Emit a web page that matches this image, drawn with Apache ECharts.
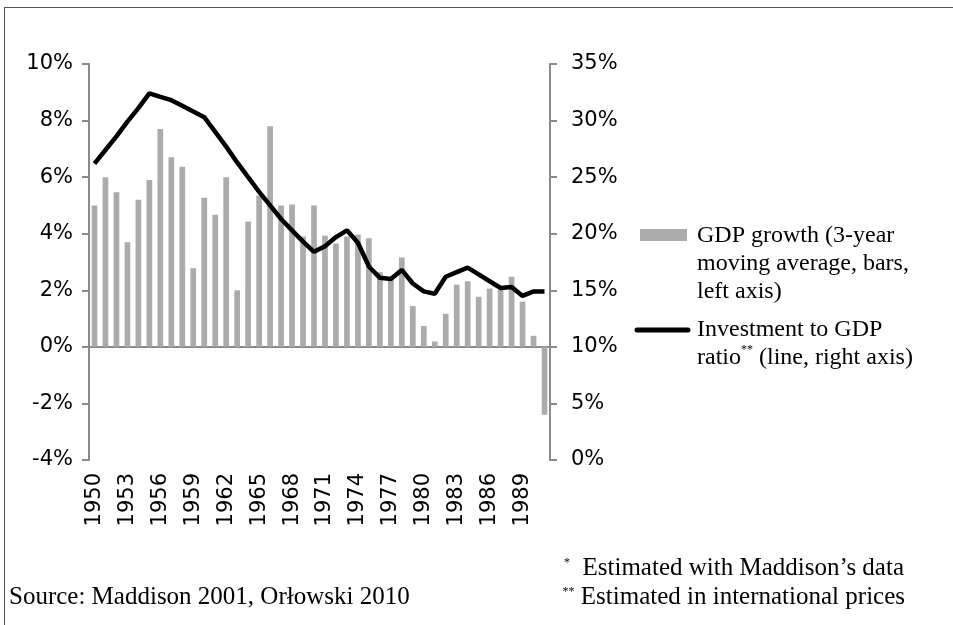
<!DOCTYPE html>
<html>
<head>
<meta charset="utf-8">
<script src="https://cdn.jsdelivr.net/npm/echarts@6/dist/echarts.min.js"></script>
<style>
    body { margin: 0; background: #fff; }
    #frame { position: absolute; left: 4px; top: 7px; right: 0; bottom: 0; border-top: 1px solid #555; border-left: 1px solid #555; }
    #chart { position: absolute; left: 0; top: 0; width: 953px; height: 625px; }
</style>
</head>
<body>
<div id="frame"></div>
<div id="chart"></div>
<script>
// years on the x axis
const years = ["1950", "1951", "1952", "1953", "1954", "1955", "1956", "1957", "1958", "1959",
    "1960", "1961", "1962", "1963", "1964", "1965", "1966", "1967", "1968", "1969",
    "1970", "1971", "1972", "1973", "1974", "1975", "1976", "1977", "1978", "1979",
    "1980", "1981", "1982", "1983", "1984", "1985", "1986", "1987", "1988", "1989",
    "1990", "1991"];
// GDP growth, 3-year moving average (%), left axis
const gdpGrowth = [5.0, 6.0, 5.47, 3.7, 5.2, 5.9, 7.7, 6.7, 6.37, 2.78,
    5.27, 4.67, 6.0, 2.0, 4.43, 5.35, 7.8, 5.0, 5.03, 3.9,
    5.0, 3.93, 3.65, 3.9, 3.97, 3.84, 2.64, 2.38, 3.16, 1.44,
    0.74, 0.19, 1.17, 2.2, 2.32, 1.77, 2.06, 2.02, 2.48, 1.6,
    0.39, -2.4];
// investment to GDP ratio (%), right axis
const investRatio = [26.2, 27.4, 28.6, 29.9, 31.1, 32.4, 32.1, 31.8, 31.3, 30.8,
    30.3, 29.0, 27.7, 26.3, 25.0, 23.7, 22.5, 21.3, 20.3, 19.3,
    18.4, 18.9, 19.7, 20.3, 19.2, 17.1, 16.1, 16.0, 16.8, 15.6,
    14.9, 14.7, 16.2, 16.6, 17.0, 16.4, 15.8, 15.2, 15.3, 14.5,
    14.9, 14.9];

const sansFont = "'DejaVu Sans', sans-serif";
const serifFont = "'Liberation Serif', serif";
const axisGrey = "#8a8a8a";

let chart = echarts.init(document.getElementById("chart"));
const option = {
    animation: false,
    grid: { left: 89, right: 403, top: 64, bottom: 165 },
    xAxis: [
        {
            // axis line and ticks sitting on the 0% line
            type: "category",
            data: years,
            position: "top",
            axisLine: { onZero: true, onZeroAxisIndex: 0, lineStyle: { color: axisGrey, width: 2 } },
            axisTick: { inside: true, length: 6, lineStyle: { color: axisGrey, width: 2 } },
            axisLabel: { show: false },
            splitLine: { show: false }
        },
        {
            // year labels at the bottom
            type: "category",
            data: years,
            position: "bottom",
            axisLine: { show: false },
            axisTick: { show: false },
            axisLabel: {
                interval: 2,
                rotate: 90,
                margin: 13,
                color: "#000",
                fontFamily: sansFont,
                fontSize: 21
            },
            splitLine: { show: false }
        }
    ],
    yAxis: [
        {
            type: "value",
            min: -4,
            max: 10,
            interval: 2,
            position: "left",
            axisLine: { show: true, lineStyle: { color: axisGrey, width: 2 } },
            axisTick: { show: true, length: 7, lineStyle: { color: axisGrey, width: 2 } },
            axisLabel: { formatter: "{value}%", margin: 16, color: "#000", fontFamily: sansFont, fontSize: 21 },
            splitLine: { show: false }
        },
        {
            type: "value",
            min: 0,
            max: 35,
            interval: 5,
            position: "right",
            axisLine: { show: true, lineStyle: { color: axisGrey, width: 2 } },
            axisTick: { show: true, length: 7, lineStyle: { color: axisGrey, width: 2 } },
            axisLabel: { formatter: "{value}%", margin: 21, color: "#000", fontFamily: sansFont, fontSize: 21 },
            splitLine: { show: false }
        }
    ],
    series: [
        {
            name: "GDP growth",
            type: "bar",
            xAxisIndex: 0,
            yAxisIndex: 0,
            barWidth: "52%",
            itemStyle: { color: "#ababab" },
            data: gdpGrowth
        },
        {
            name: "Investment to GDP ratio",
            type: "line",
            xAxisIndex: 0,
            yAxisIndex: 1,
            symbol: "none",
            lineStyle: { color: "#000", width: 4.5 },
            data: investRatio
        }
    ],
    graphic: [
        // legend
        { type: "rect", shape: { x: 640, y: 229, width: 47, height: 12 }, style: { fill: "#ababab" } },
        {
            type: "text", left: 697, top: 222,
            style: {
                text: "GDP growth (3-year\nmoving average, bars,\nleft axis)",
                fontFamily: serifFont, fontSize: 24, lineHeight: 28, fill: "#000"
            }
        },
        { type: "line", shape: { x1: 637, y1: 330, x2: 688, y2: 330 }, style: { stroke: "#000", lineWidth: 5, lineCap: "round" } },
        {
            type: "text", left: 697, top: 316,
            style: {
                text: "Investment to GDP\nratio{sup|**} (line, right axis)",
                fontFamily: serifFont, fontSize: 24, lineHeight: 28, fill: "#000",
                rich: { sup: { fontFamily: serifFont, fontSize: 12, verticalAlign: "top", padding: [0, 0, 10, 0], fill: "#000" } }
            }
        },
        // footnotes
        {
            type: "text", left: 9, top: 585,
            style: { text: "Source: Maddison 2001, Orłowski 2010", fontFamily: serifFont, fontSize: 25, fill: "#000" }
        },
        {
            type: "text", right: 49, top: 556,
            style: {
                text: "{sup|*}  Estimated with Maddison’s data",
                fontFamily: serifFont, fontSize: 25, fill: "#000",
                rich: { sup: { fontFamily: serifFont, fontSize: 12, padding: [0, 0, 11, 0], fill: "#000" } }
            }
        },
        {
            type: "text", right: 48, top: 585,
            style: {
                text: "{sup|**} Estimated in international prices",
                fontFamily: serifFont, fontSize: 25, fill: "#000",
                rich: { sup: { fontFamily: serifFont, fontSize: 12, padding: [0, 0, 11, 0], fill: "#000" } }
            }
        }
    ]
};
chart.setOption(option);
</script>
</body>
</html>
